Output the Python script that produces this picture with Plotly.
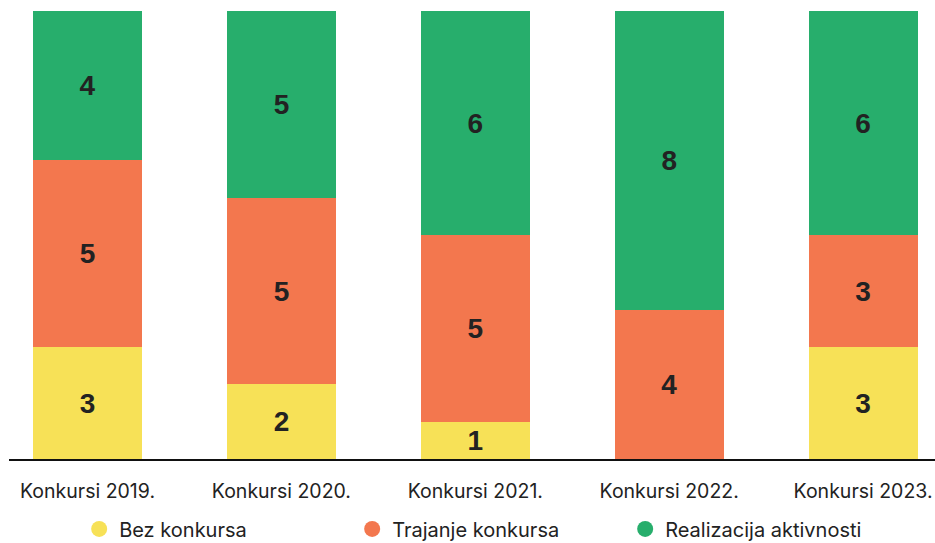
import plotly.graph_objects as go

categories = ["Konkursi 2019.", "Konkursi 2020.", "Konkursi 2021.", "Konkursi 2022.", "Konkursi 2023."]
bez_konkursa = [3, 2, 1, 0, 3]
trajanje_konkursa = [5, 5, 5, 4, 3]
realizacija_aktivnosti = [4, 5, 6, 8, 6]

series = [
    ("Bez konkursa", bez_konkursa, "#F7E157"),
    ("Trajanje konkursa", trajanje_konkursa, "#F3774E"),
    ("Realizacija aktivnosti", realizacija_aktivnosti, "#27AE6C"),
]

fig = go.Figure()
for name, vals, color in series:
    fig.add_trace(go.Bar(
        x=categories, y=vals, name=name, marker=dict(color=color, line=dict(width=0)),
        text=[str(v) if v else "" for v in vals], textposition="inside",
        insidetextanchor="middle", constraintext="none",
        textfont=dict(family="Liberation Sans", size=28, color="#222222", weight="bold"),
        showlegend=False, hoverinfo="skip",
    ))
for name, vals, color in series:
    fig.add_trace(go.Scatter(
        x=[None], y=[None], mode="markers", name=name,
        marker=dict(symbol="circle", size=20, color=color), showlegend=True,
    ))

fig.update_layout(
    barmode="stack", bargap=0.438,
    width=935, height=543,
    margin=dict(l=9, r=0, t=11, b=84, autoexpand=False),
    plot_bgcolor="white", paper_bgcolor="white",
    font=dict(family="Inter", color="#222222"),
    xaxis=dict(
        range=[-0.405, 4.371], showline=True, linecolor="#111111", linewidth=2,
        showgrid=False, zeroline=False, ticks="outside", ticklen=14, tickcolor="rgba(0,0,0,0)",
        tickfont=dict(size=19.5, color="#222222"), automargin=False,
    ),
    yaxis=dict(range=[0, 12], visible=False, showgrid=False, zeroline=False, automargin=False),
    legend=dict(
        orientation="h", x=0.518, xanchor="center", y=-0.156, yanchor="middle",
        font=dict(size=20, color="#222222"), entrywidth=228, entrywidthmode="pixels",
        itemclick=False, traceorder="normal",
    ),
)

fig.write_html(
    "out.html",
    config={"displayModeBar": False},
    post_script="document.body.style.margin='0';document.body.style.overflow='hidden';",
)
